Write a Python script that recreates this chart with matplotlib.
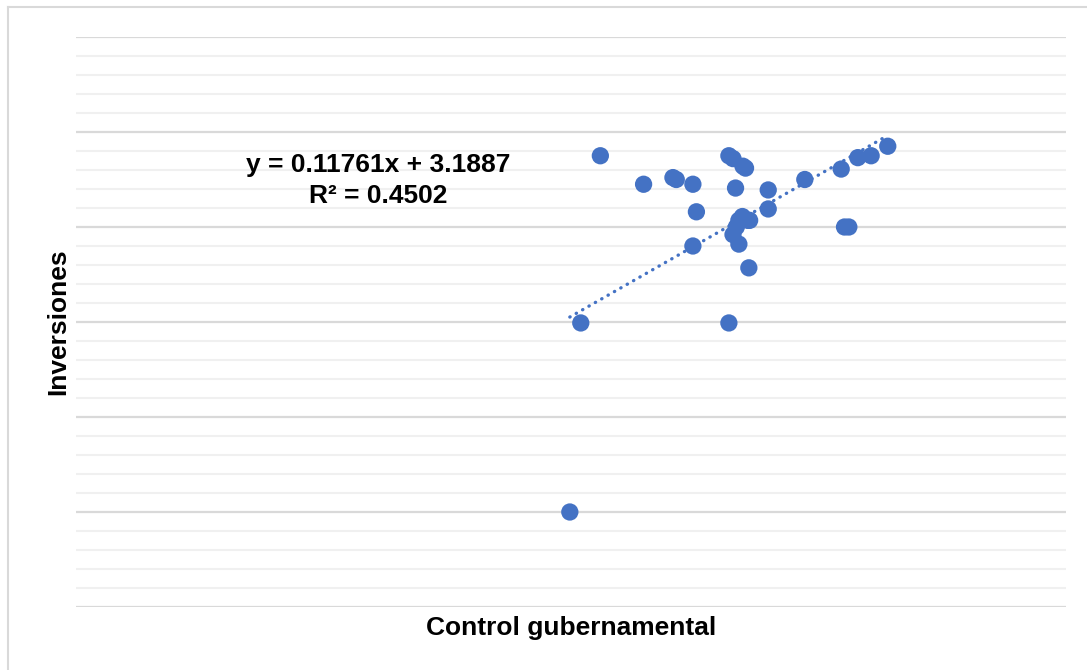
import matplotlib
matplotlib.use("Agg")
import matplotlib.pyplot as plt
from matplotlib.ticker import MultipleLocator
from matplotlib.lines import Line2D
import numpy as np

plt.rcParams['font.family'] = ['Liberation Sans', 'DejaVu Sans']

# Data
control = [0.40, -0.60, 6.97, 2.61, 4.11, 4.28, 5.13, 5.31, 5.13, 6.97, 7.18,
           7.69, 7.82, 7.31, 8.98, 8.98, 10.85, 12.71, 13.56, 14.24, 15.09,
           12.88, 13.10, 7.99, 7.66, 7.94, 7.48, 7.35, 7.18, 7.48, 8.03, -1.16]
inversiones = [4.75, 2.99, 2.99, 4.45, 4.52, 4.50, 4.45, 4.16, 3.80, 4.75, 4.72,
               4.64, 4.62, 4.41, 4.39, 4.19, 4.50, 4.61, 4.73, 4.75, 4.85,
               4.00, 4.00, 3.57, 4.11, 4.07, 4.07, 4.00, 3.92, 3.82, 4.07, 1.00]
slope = 0.11761
intercept = 3.1887
r2 = 0.4502

x_label = "Control gubernamental"
y_label = "Inversiones"

W, H = 1087, 670
fig = plt.figure(figsize=(W / 100, H / 100), dpi=100)
ax = fig.add_axes([76 / W, (H - 607) / H, (1066 - 76) / W, (607 - 37) / H])

ax.set_xlim(-26.4, 24.2)
ax.set_ylim(0, 6)
ax.yaxis.set_major_locator(MultipleLocator(1))
ax.yaxis.set_minor_locator(MultipleLocator(0.2))
ax.grid(which='major', axis='y', color='#d9d9d9', linewidth=1.6, zorder=0)
ax.grid(which='minor', axis='y', color='#f0f0f0', linewidth=1.5, zorder=0)
ax.set_axisbelow(True)
ax.tick_params(which='both', left=False, bottom=False, labelleft=False, labelbottom=False)
for s in ax.spines.values():
    s.set_visible(False)

ax.scatter(control, inversiones, s=155, color='#4472C4', edgecolors='none', zorder=3)

xs = np.array([min(control), max(control)])
ax.plot(xs, slope * xs + intercept, color='#4472C4', linewidth=2.4,
        linestyle=(0, (0.1, 2.1)), dash_capstyle='round', zorder=4)

fig.text(378 / W, (H - 165) / H, f"y = {slope}x + {intercept}", ha='center', va='center',
         fontsize=19, fontweight='bold')
fig.text(378 / W, (H - 196) / H, f"R² = {r2}", ha='center', va='center',
         fontsize=19, fontweight='bold')

fig.text(571 / W, (H - 628) / H, x_label, ha='center', va='center',
         fontsize=19, fontweight='bold')
fig.text(58 / W, (H - 322) / H, y_label, ha='center', va='center', rotation=90,
         fontsize=19, fontweight='bold')

# outer border (left and top visible)
fig.add_artist(Line2D([7.5 / W, 7.5 / W], [0, (H - 6.5) / H], color='#d9d9d9', linewidth=1.5,
                      transform=fig.transFigure))
fig.add_artist(Line2D([7.5 / W, 1], [(H - 6.5) / H, (H - 6.5) / H], color='#d9d9d9', linewidth=1.5,
                      transform=fig.transFigure))

fig.savefig("out.png", dpi=100)
